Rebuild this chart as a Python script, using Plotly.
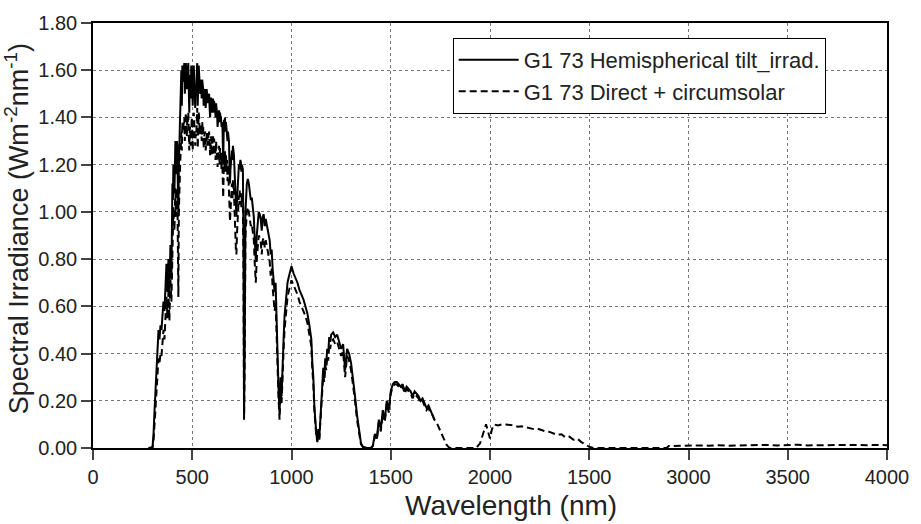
import plotly.graph_objects as go

# ---- Global tilt (hemispherical) spectrum ----
wl_hemi = [280, 295, 300, 305, 310, 315, 320, 325, 330, 335, 340, 345, 350, 355, 360, 365, 370, 375, 380, 385,
           390, 395, 400, 405, 410, 415, 420, 425, 430, 435, 440, 445, 450, 455, 460, 465, 470, 475, 480, 485,
           490, 495, 500, 505, 510, 515, 520, 525, 530, 535, 540, 545, 550, 555, 560, 565, 570, 575, 580, 585,
           590, 595, 600, 605, 610, 615, 620, 625, 630, 635, 640, 645, 650, 656, 660, 665, 670, 675, 680, 685,
           690, 695, 700, 705, 710, 715, 720, 725, 730, 735, 740, 745, 750, 755, 758, 761, 764, 768, 775, 780,
           785, 790, 795, 800, 805, 810, 815, 820, 825, 830, 835, 840, 845, 850, 855, 860, 865, 870, 875, 880,
           885, 890, 895, 900, 905, 910, 915, 920, 925, 930, 935, 940, 945, 950, 955, 960, 965, 970, 975, 980,
           985, 990, 995, 1000, 1010, 1020, 1030, 1040, 1050, 1060, 1070, 1080, 1090, 1100, 1105, 1110, 1115, 1120,
           1125, 1130, 1135, 1140, 1145, 1150, 1155, 1160, 1165, 1170, 1175, 1180, 1185, 1190, 1195, 1200, 1210,
           1220, 1230, 1240, 1250, 1260, 1270, 1280, 1290, 1300, 1310, 1320, 1330, 1340, 1350, 1360, 1380, 1400,
           1410, 1420, 1430, 1440, 1450, 1460, 1470, 1480, 1490, 1500, 1510, 1520, 1530, 1540, 1550, 1560, 1570,
           1580, 1590, 1600, 1610, 1620, 1630, 1640, 1650, 1660, 1670, 1680, 1690, 1700, 1710, 1720]
irr_hemi = [0.0, 0.0, 0.005, 0.06, 0.16, 0.24, 0.30, 0.38, 0.50, 0.46, 0.52, 0.50, 0.56, 0.62, 0.58, 0.72, 0.78, 0.66, 0.80, 0.64,
            0.86, 0.72, 1.12, 1.20, 1.08, 1.30, 1.24, 1.28, 0.98, 1.30, 1.42, 1.60, 1.62, 1.58, 1.63, 1.55, 1.60, 1.62, 1.63, 1.42,
            1.58, 1.62, 1.52, 1.60, 1.56, 1.44, 1.50, 1.63, 1.60, 1.58, 1.50, 1.54, 1.56, 1.52, 1.48, 1.50, 1.47, 1.50, 1.49, 1.50,
            1.40, 1.48, 1.46, 1.48, 1.47, 1.44, 1.46, 1.42, 1.38, 1.43, 1.42, 1.40, 1.38, 1.20, 1.39, 1.40, 1.38, 1.36, 1.34, 1.30,
            1.12, 1.20, 1.26, 1.28, 1.24, 1.14, 1.00, 1.04, 1.15, 1.20, 1.22, 1.21, 1.20, 1.18, 0.90, 0.14, 0.40, 1.00, 1.12, 1.14,
            1.12, 1.08, 1.05, 1.06, 1.02, 0.98, 0.88, 0.80, 0.90, 0.96, 1.00, 0.99, 0.97, 0.92, 0.98, 0.99, 0.94, 0.97, 0.95, 0.93,
            0.90, 0.88, 0.82, 0.84, 0.76, 0.72, 0.66, 0.70, 0.50, 0.38, 0.24, 0.15, 0.30, 0.22, 0.40, 0.46, 0.56, 0.62, 0.66, 0.70,
            0.72, 0.74, 0.76, 0.77, 0.74, 0.72, 0.70, 0.67, 0.65, 0.63, 0.60, 0.57, 0.52, 0.46, 0.36, 0.30, 0.18, 0.10,
            0.06, 0.03, 0.08, 0.04, 0.12, 0.20, 0.28, 0.34, 0.30, 0.38, 0.36, 0.42, 0.40, 0.47, 0.45, 0.48, 0.49,
            0.47, 0.48, 0.45, 0.42, 0.44, 0.33, 0.42, 0.40, 0.36, 0.30, 0.22, 0.14, 0.08, 0.02, 0.005, 0.0, 0.0,
            0.01, 0.06, 0.04, 0.12, 0.08, 0.16, 0.12, 0.20, 0.16, 0.24, 0.27, 0.28, 0.28, 0.27, 0.26, 0.27, 0.24,
            0.26, 0.25, 0.24, 0.22, 0.24, 0.23, 0.22, 0.20, 0.21, 0.19, 0.17, 0.18, 0.16, 0.14, 0.12]

# extra fine-structure readings in the visible band (hemispherical)
wl_hemi_fine = [402.5, 407.5, 412.5, 417.5, 422.5, 427.5, 432.5, 437.5, 442.5, 447.5, 452.5, 457.5, 462.5, 467.5,
                472.5, 477.5, 482.5, 487.5, 492.5, 497.5, 502.5, 507.5, 512.5, 517.5, 522.5, 527.5, 532.5, 537.5,
                542.5, 547.5, 552.5, 557.5, 562.5, 567.5, 572.5, 577.5, 582.5, 587.5, 592.5, 597.5, 602.5, 607.5,
                612.5, 617.5, 622.5, 627.5, 632.5, 637.5, 642.5, 647.5, 652.5, 658, 662.5, 667.5, 672.5, 677.5,
                682.5, 687.5, 692.5, 697.5, 702.5, 707.5, 712.5, 717.5, 722.5, 727.5, 732.5, 737.5, 742.5, 747.5, 752.5]
irr_hemi_fine = [1.05, 1.14, 1.18, 1.16, 1.30, 1.10, 1.20, 1.36, 1.50, 1.45, 1.55, 1.62, 1.50, 1.63,
                 1.52, 1.58, 1.50, 1.55, 1.48, 1.60, 1.45, 1.62, 1.50, 1.52, 1.58, 1.45, 1.62, 1.52,
                 1.56, 1.48, 1.54, 1.45, 1.52, 1.44, 1.52, 1.46, 1.50, 1.44, 1.48, 1.42, 1.47, 1.42,
                 1.45, 1.40, 1.44, 1.36, 1.42, 1.38, 1.40, 1.36, 1.35, 1.32, 1.36, 1.34, 1.35, 1.30,
                 1.32, 1.20, 1.18, 1.24, 1.22, 1.26, 1.18, 1.06, 0.98, 1.10, 1.16, 1.18, 1.22, 1.17, 1.19]

# ---- Direct + circumsolar spectrum ----
wl_direct = [280, 295, 300, 305, 310, 315, 320, 325, 330, 335, 340, 345, 350, 355, 360, 365, 370, 375, 380, 385,
             390, 395, 400, 405, 410, 415, 420, 425, 430, 435, 440, 445, 450, 455, 460, 465, 470, 475, 480, 485,
             490, 495, 500, 505, 510, 515, 520, 525, 530, 535, 540, 545, 550, 555, 560, 565, 570, 575, 580, 585,
             590, 595, 600, 605, 610, 615, 620, 625, 630, 635, 640, 645, 650, 656, 660, 665, 670, 675, 680, 685,
             690, 695, 700, 705, 710, 715, 720, 725, 730, 735, 740, 745, 750, 755, 758, 761, 764, 768, 775, 780,
             785, 790, 795, 800, 805, 810, 815, 820, 825, 830, 835, 840, 845, 850, 855, 860, 865, 870, 875, 880,
             885, 890, 895, 900, 905, 910, 915, 920, 925, 930, 935, 940, 945, 950, 955, 960, 965, 970, 975, 980,
             985, 990, 995, 1000, 1010, 1020, 1030, 1040, 1050, 1060, 1070, 1080, 1090, 1100, 1105, 1110, 1115, 1120,
             1125, 1130, 1135, 1140, 1145, 1150, 1155, 1160, 1165, 1170, 1175, 1180, 1185, 1190, 1195, 1200, 1210,
             1220, 1230, 1240, 1250, 1260, 1270, 1280, 1290, 1300, 1310, 1320, 1330, 1340, 1350, 1360, 1380, 1400,
             1410, 1420, 1430, 1440, 1450, 1460, 1470, 1480, 1490, 1500, 1510, 1520, 1530, 1540, 1550, 1560, 1570,
             1580, 1590, 1600, 1610, 1620, 1630, 1640, 1650, 1660, 1670, 1680, 1690, 1700, 1710, 1720, 1730, 1740,
             1750, 1760, 1770, 1780, 1790, 1800, 1850, 1900, 1930, 1950, 1960, 1970, 1980, 1990, 2000, 2010, 2020,
             2040, 2060, 2080, 2100, 2120, 2140, 2160, 2180, 2200, 2220, 2240, 2260, 2280, 2300, 2320, 2340, 2360,
             2380, 2400, 2420, 2440, 2460, 2480, 2500, 2520, 2700, 2890, 2900, 2950, 3000, 3050, 3100, 3150, 3200,
             3250, 3300, 3350, 3400, 3450, 3500, 3550, 3600, 3650, 3700, 3750, 3800, 3850, 3900, 3950, 4000]
irr_direct = [0.0, 0.0, 0.003, 0.03, 0.10, 0.17, 0.22, 0.28, 0.38, 0.36, 0.40, 0.39, 0.44, 0.50, 0.46, 0.58, 0.64, 0.55, 0.66, 0.54,
              0.72, 0.62, 0.94, 1.02, 0.92, 1.10, 1.06, 1.08, 0.64, 1.12, 1.22, 1.34, 1.38, 1.36, 1.40, 1.34, 1.38, 1.40, 1.42, 1.26,
              1.36, 1.40, 1.34, 1.40, 1.38, 1.28, 1.32, 1.44, 1.42, 1.40, 1.34, 1.37, 1.38, 1.36, 1.32, 1.34, 1.31, 1.34, 1.33, 1.34,
              1.24, 1.32, 1.30, 1.32, 1.31, 1.28, 1.30, 1.27, 1.22, 1.28, 1.27, 1.25, 1.24, 1.06, 1.25, 1.26, 1.24, 1.22, 1.20, 1.14,
              0.96, 1.06, 1.12, 1.14, 1.10, 0.98, 0.84, 0.90, 1.02, 1.07, 1.09, 1.08, 1.07, 1.05, 0.78, 0.12, 0.36, 0.90, 1.00, 1.02,
              1.00, 0.97, 0.94, 0.95, 0.92, 0.88, 0.78, 0.70, 0.80, 0.86, 0.90, 0.89, 0.87, 0.82, 0.88, 0.89, 0.85, 0.88, 0.86, 0.84,
              0.81, 0.79, 0.73, 0.76, 0.68, 0.64, 0.58, 0.62, 0.44, 0.33, 0.20, 0.12, 0.26, 0.19, 0.36, 0.41, 0.50, 0.56, 0.60, 0.64,
              0.66, 0.68, 0.70, 0.71, 0.69, 0.67, 0.65, 0.62, 0.60, 0.58, 0.56, 0.53, 0.48, 0.43, 0.33, 0.27, 0.16, 0.09,
              0.05, 0.025, 0.07, 0.035, 0.10, 0.18, 0.26, 0.31, 0.28, 0.35, 0.33, 0.39, 0.37, 0.44, 0.42, 0.45, 0.46,
              0.44, 0.45, 0.42, 0.39, 0.41, 0.30, 0.39, 0.37, 0.33, 0.27, 0.20, 0.12, 0.07, 0.015, 0.004, 0.0, 0.0,
              0.008, 0.05, 0.035, 0.11, 0.07, 0.15, 0.11, 0.19, 0.15, 0.23, 0.26, 0.27, 0.27, 0.26, 0.25, 0.26, 0.23,
              0.25, 0.24, 0.23, 0.21, 0.23, 0.22, 0.21, 0.19, 0.20, 0.18, 0.16, 0.17, 0.15, 0.14, 0.12, 0.11, 0.09,
              0.07, 0.05, 0.03, 0.015, 0.005, 0.0, 0.0, 0.0, 0.0, 0.02, 0.05, 0.08, 0.10, 0.07, 0.04, 0.08, 0.10,
              0.095, 0.10, 0.10, 0.098, 0.095, 0.09, 0.092, 0.088, 0.085, 0.08, 0.082, 0.075, 0.07, 0.068, 0.06, 0.055, 0.058,
              0.045, 0.048, 0.035, 0.04, 0.025, 0.015, 0.005, 0.0, 0.0, 0.0, 0.008, 0.010, 0.009, 0.011, 0.010, 0.012, 0.010,
              0.011, 0.012, 0.010, 0.013, 0.011, 0.012, 0.014, 0.011, 0.013, 0.012, 0.013, 0.012, 0.011, 0.012, 0.013, 0.012]

# extra fine-structure readings in the visible band (direct + circumsolar)
wl_direct_fine = wl_hemi_fine
irr_direct_fine = [0.88, 0.96, 1.00, 0.98, 1.10, 0.90, 1.00, 1.16, 1.28, 1.26, 1.34, 1.40, 1.30, 1.42,
                   1.32, 1.38, 1.30, 1.35, 1.28, 1.40, 1.26, 1.42, 1.30, 1.33, 1.38, 1.27, 1.42, 1.33,
                   1.37, 1.30, 1.35, 1.27, 1.33, 1.26, 1.33, 1.28, 1.31, 1.26, 1.30, 1.24, 1.29, 1.24,
                   1.27, 1.22, 1.26, 1.19, 1.24, 1.20, 1.22, 1.18, 1.18, 1.15, 1.19, 1.17, 1.18, 1.13,
                   1.15, 1.03, 1.00, 1.07, 1.05, 1.09, 1.02, 0.90, 0.82, 0.94, 1.00, 1.03, 1.07, 1.02, 1.04]

x_tick_vals = [0, 500, 1000, 1500, 2000, 2500, 3000, 3500, 4000]
x_tick_text = ["0", "500", "1000", "1500", "2000", "1500", "3000", "3500", "4000"]
y_tick_vals = [0.0, 0.2, 0.4, 0.6, 0.8, 1.0, 1.2, 1.4, 1.6, 1.8]

name_hemi = "G1 73 Hemispherical tilt_irrad."
name_direct = "G1 73 Direct + circumsolar"
x_title = "Wavelength (nm)"
y_title = "Spectral Irradiance (Wm<sup>-2</sup>nm<sup>-1</sup>)"


def merged(wl_a, v_a, wl_b, v_b):
    pairs = sorted(zip(list(wl_a) + list(wl_b), list(v_a) + list(v_b)))
    return [p[0] for p in pairs], [p[1] for p in pairs]


hx, hy = merged(wl_hemi, irr_hemi, wl_hemi_fine, irr_hemi_fine)
dx, dy = merged(wl_direct, irr_direct, wl_direct_fine, irr_direct_fine)

FONT = "Liberation Sans, Arial, Helvetica, sans-serif"

fig = go.Figure()
fig.add_trace(go.Scatter(x=hx, y=hy, mode="lines", name=name_hemi,
                         line=dict(color="black", width=2)))
fig.add_trace(go.Scatter(x=dx, y=dy, mode="lines", name=name_direct,
                         line=dict(color="black", width=2, dash="7px,4px")))

axis_common = dict(showline=True, linecolor="black", linewidth=1.5, mirror=True,
                   ticks="outside", ticklen=10, tickwidth=2, tickcolor="#444",
                   showgrid=True, gridcolor="#777", griddash="dot", gridwidth=1,
                   zeroline=False, tickfont=dict(family=FONT, size=20, color="#222"))

fig.update_layout(
    width=921, height=524,
    margin=dict(l=93, r=33, t=15, b=76),
    paper_bgcolor="white", plot_bgcolor="white",
    font=dict(family=FONT, color="#222"),
    xaxis=dict(range=[0, 4000], tickvals=x_tick_vals, ticktext=x_tick_text, **axis_common),
    yaxis=dict(range=[0, 1.8], tickvals=y_tick_vals, tickformat=".2f", **axis_common),
    legend=dict(x=0.453, y=0.965, xanchor="left", yanchor="top",
                bgcolor="white", bordercolor="black", borderwidth=1,
                font=dict(family=FONT, size=22, color="#222"), itemwidth=60,
                tracegroupgap=4),
    showlegend=True,
    annotations=[
        dict(text=x_title, xref="paper", yref="paper", x=0.527, y=-0.136,
             xanchor="center", yanchor="middle", showarrow=False,
             font=dict(family=FONT, size=28, color="#222")),
        dict(text=y_title, xref="paper", yref="paper", x=-0.0956, y=0.515,
             xanchor="center", yanchor="middle", showarrow=False, textangle=-90,
             font=dict(family=FONT, size=27, color="#222")),
    ],
)

fig.write_html("out.html")
